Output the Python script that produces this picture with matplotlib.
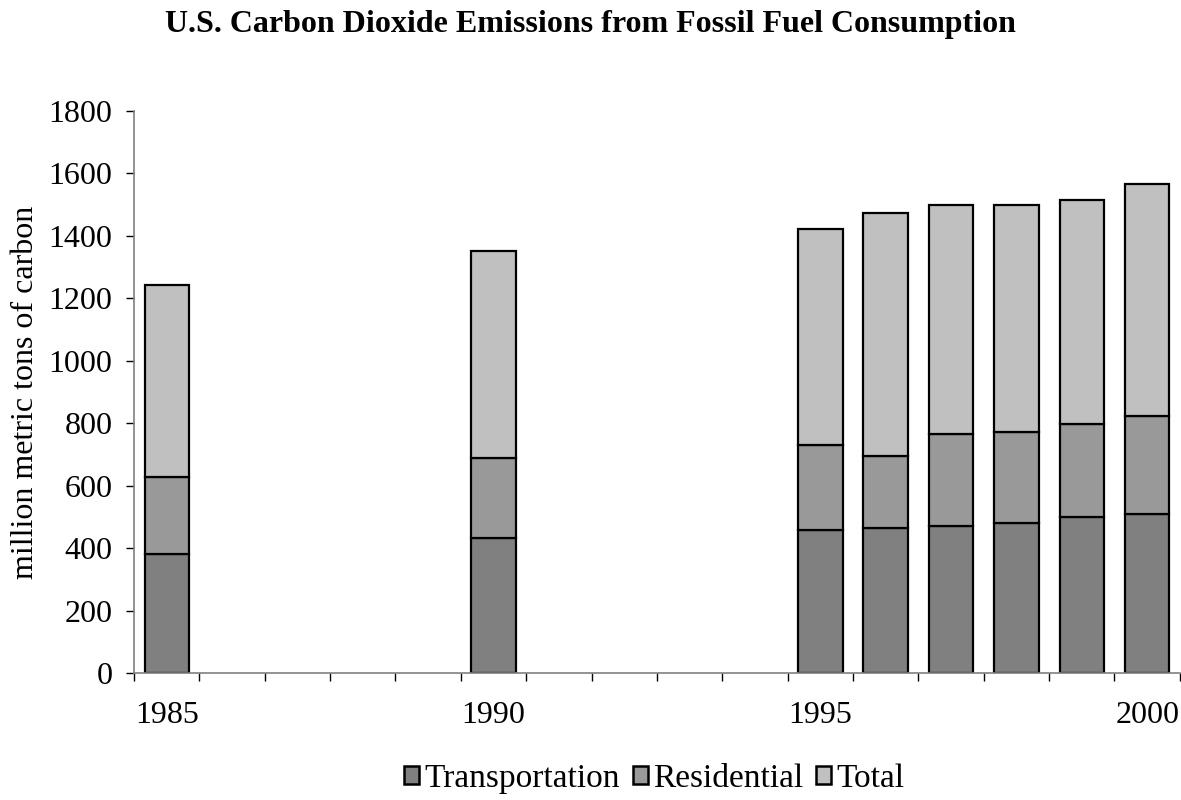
import numpy as np
import matplotlib
matplotlib.use("Agg")
import matplotlib.pyplot as plt
from matplotlib.patches import Patch

years = [1985, 1990, 1995, 1996, 1997, 1998, 1999, 2000]
transportation = [381, 432, 457, 465, 472, 482, 499, 509]
residential = [246, 256, 272, 231, 293, 291, 300, 315]
total = [615, 664, 691, 776, 732, 724, 715, 741]
labelled_years = [1985, 1990, 1995, 2000]

plt.rcParams['font.family'] = ['Liberation Serif', 'DejaVu Serif']

fig = plt.figure(figsize=(11.81, 8), dpi=100)
ax = fig.add_axes([0.1135, 0.15838, 0.8855, 0.70325])

x = np.array(years)
t = np.array(transportation)
r = np.array(residential)
w = 0.68
ax.bar(x, t, w, color='#808080', edgecolor='black', linewidth=1.6)
ax.bar(x, r, w, bottom=t, color='#999999', edgecolor='black', linewidth=1.6)
ax.bar(x, total, w, bottom=t + r, color='#c0c0c0', edgecolor='black', linewidth=1.6)

ax.set_xlim(1984.5, 2000.5)
ax.set_ylim(0, 1800)
ax.set_yticks(np.arange(0, 1801, 200))
ax.set_xticks(np.arange(1984.5, 2001, 1), minor=True)
ax.set_xticks(labelled_years)
ax.set_xticklabels([str(y) for y in labelled_years])
ax.tick_params(axis='x', which='major', length=0, pad=20, labelsize=23)
ax.tick_params(axis='x', which='minor', length=6, width=1, color='black', direction='out')
ax.tick_params(axis='y', length=5.5, width=1, labelsize=23, pad=10)

for s in ['top', 'right']:
    ax.spines[s].set_visible(False)
ax.spines['left'].set_color('#808080')
ax.spines['bottom'].set_color('#808080')
ax.spines['left'].set_linewidth(1.2)
ax.spines['bottom'].set_linewidth(1.2)

ax.set_ylabel('million metric tons of carbon', fontsize=23, labelpad=6)
fig.text(0.5, 0.96, 'U.S. Carbon Dioxide Emissions from Fossil Fuel Consumption',
         ha='center', va='baseline', fontsize=23, fontweight='bold')

handles = [Patch(facecolor='#808080', edgecolor='black', linewidth=1.8),
           Patch(facecolor='#999999', edgecolor='black', linewidth=1.8),
           Patch(facecolor='#c0c0c0', edgecolor='black', linewidth=1.8)]
fig.legend(handles, ['Transportation', 'Residential', 'Total'], loc='center',
           bbox_to_anchor=(0.554, 0.027), ncol=3, frameon=False, fontsize=24,
           handlelength=0.45, handleheight=0.45, handletextpad=0.15, columnspacing=0.4,
           borderpad=0.1)

fig.savefig('out.png', dpi=100)
